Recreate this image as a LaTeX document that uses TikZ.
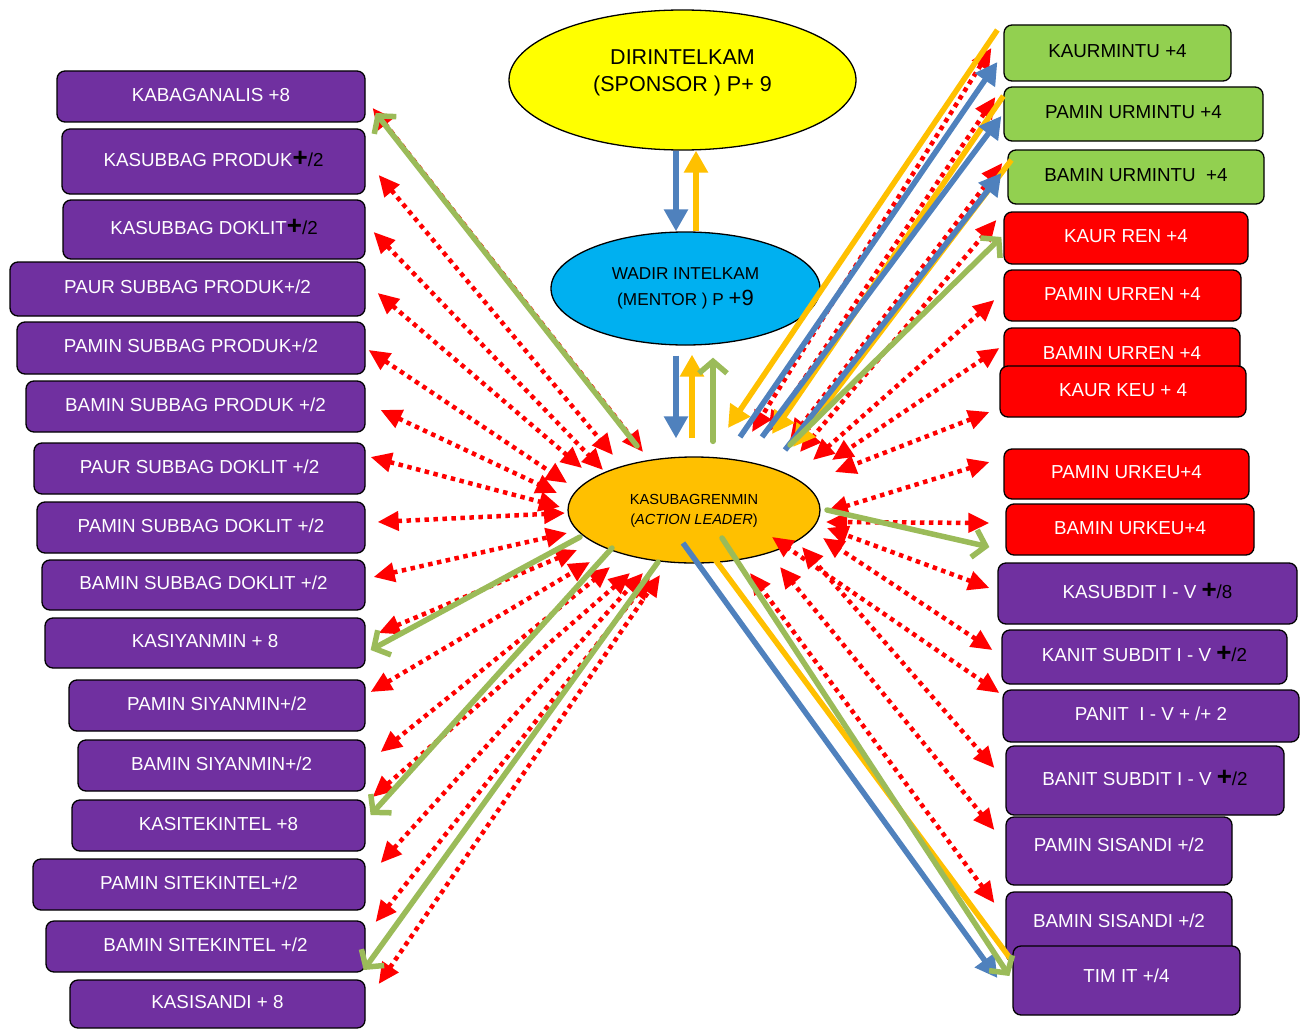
\documentclass[tikz,border=0pt]{standalone}
\usepackage{fontspec}
\setmainfont{Liberation Sans}
\usetikzlibrary{arrows.meta,shapes.geometric}

\definecolor{unitpurple}{HTML}{7030A0}
\definecolor{unitred}{HTML}{FF0000}
\definecolor{unitgreen}{HTML}{92D050}
\definecolor{linkblue}{HTML}{4F81BD}
\definecolor{linkgold}{HTML}{FFC000}
\definecolor{linkgreen}{HTML}{9BBB59}
\definecolor{linkred}{HTML}{FF0000}
\definecolor{sponsorfill}{HTML}{FFFF00}
\definecolor{mentorfill}{HTML}{00B0F0}
\definecolor{leaderfill}{HTML}{FFC000}

% black, enlarged plus sign followed by its divisor
\newcommand\blkplus[1]{{\color{black}\fontsize{26}{20}\selectfont\bfseries +}{\color{black}#1}}

\begin{document}
\begin{tikzpicture}[x=1pt, y=-1pt,
  orgbox/.style={draw=black, line width=1.3pt, rounded corners=8pt, inner sep=0pt,
    font=\fontsize{18.8}{20}\selectfont, text height=13.5pt, text depth=4pt},
  pbox/.style={orgbox, fill=unitpurple, text=white},
  rbox/.style={orgbox, fill=unitred, text=white},
  gbox/.style={orgbox, fill=unitgreen, text=black},
  spanbox/.style n args={4}{minimum width={#3-#1}, minimum height={#4-#2},
    at={({(#1+#3)/2},{(#2+#4)/2})}},
  raisetext/.style={text depth=#1},
  oval/.style={ellipse, draw=black, line width=1.3pt, inner sep=0pt},
  reddot/.style={draw=linkred, line width=4.5pt, dash pattern=on 4.5pt off 4.5pt,
    arrows={Triangle[length=21pt,width=19pt]-Triangle[length=21pt,width=19pt]}},
  blueln/.style={draw=linkblue, line width=5.5pt, arrows={-Triangle[length=22pt,width=23pt]}},
  goldln/.style={draw=linkgold, line width=5.5pt, arrows={-Triangle[length=22pt,width=23pt]}},
  goldbare/.style={draw=linkgold, line width=5.5pt},
  greenln/.style={draw=linkgreen, line width=5.5pt, line cap=round,
    arrows={-Straight Barb[length=12pt,width=28pt]}}
]
\fill[white] (0,0) rectangle (1308,1030);
\useasboundingbox (0,0) rectangle (1308,1030);

% ---- central hierarchy ----
\node[oval, fill=sponsorfill, minimum width=347pt, minimum height=140pt] (dir) at (682.5,80)
  {\raisebox{2.5pt}[0pt][0pt]{\fontsize{21.5}{27}\selectfont\begin{tabular}{@{}c@{}}DIRINTELKAM\\(SPONSOR ) P+ 9\end{tabular}}};
\node[oval, fill=mentorfill, minimum width=269pt, minimum height=113pt] (wadir) at (685.5,288.5)
  {\raisebox{-3.3pt}[0pt][0pt]{\fontsize{17.2}{26}\selectfont\begin{tabular}{@{}c@{}}WADIR INTELKAM\\(MENTOR ) P {\fontsize{22}{26}\selectfont +9}\end{tabular}}};
\node[oval, fill=leaderfill, minimum width=252pt, minimum height=106pt] (lead) at (694,510)
  {\raisebox{-4.5pt}[0pt][0pt]{\fontsize{14.6}{20}\selectfont\begin{tabular}{@{}c@{}}KASUBAGRENMIN\\(\textit{ACTION LEADER})\end{tabular}}};

% ---- left column ----
\node[pbox, spanbox={57}{71}{365}{122}] (l1) {KABAGANALIS +8};
\node[pbox, spanbox={62}{129}{365}{194}] (l2) {KASUBBAG PRODUK\blkplus{/2}};
\node[pbox, spanbox={63}{200}{365}{259}] (l3) {KASUBBAG DOKLIT\blkplus{/2}};
\node[pbox, spanbox={10}{262}{365}{316}] (l4) {PAUR SUBBAG PRODUK+/2};
\node[pbox, spanbox={17}{322}{365}{374}] (l5) {PAMIN SUBBAG PRODUK+/2};
\node[pbox, spanbox={26}{381}{365}{432}] (l6) {BAMIN SUBBAG PRODUK +/2};
\node[pbox, spanbox={34}{443}{365}{494}] (l7) {PAUR SUBBAG DOKLIT +/2};
\node[pbox, spanbox={37}{502}{365}{553}] (l8) {PAMIN SUBBAG DOKLIT +/2};
\node[pbox, spanbox={42}{560}{365}{610}] (l9) {BAMIN SUBBAG DOKLIT +/2};
\node[pbox, spanbox={45}{618}{365}{668}] (l10) {KASIYANMIN + 8};
\node[pbox, spanbox={69}{680}{365}{731}] (l11) {PAMIN SIYANMIN+/2};
\node[pbox, spanbox={78}{740}{365}{791}] (l12) {BAMIN SIYANMIN+/2};
\node[pbox, spanbox={72}{800}{365}{851}] (l13) {KASITEKINTEL +8};
\node[pbox, spanbox={33}{859}{365}{910}] (l14) {PAMIN SITEKINTEL+/2};
\node[pbox, spanbox={46}{921}{365}{972}] (l15) {BAMIN SITEKINTEL +/2};
\node[pbox, spanbox={70}{980}{365}{1028}] (l16) {KASISANDI + 8};

% ---- right column ----
\node[gbox, spanbox={1004}{25}{1231}{81}] (r1) {KAURMINTU +4};
\node[gbox, spanbox={1004}{87}{1263}{141}] (r2) {PAMIN URMINTU +4};
\node[gbox, spanbox={1008}{150}{1264}{204}] (r3) {BAMIN URMINTU\ \ +4};
\node[rbox, spanbox={1004}{212}{1248}{264}] (r4) {KAUR REN +4};
\node[rbox, spanbox={1004}{270}{1241}{321}] (r5) {PAMIN URREN +4};
\node[rbox, spanbox={1004}{328}{1240}{382}] (r6) {BAMIN URREN +4};
\node[rbox, spanbox={1000}{366}{1246}{417}] (r7) {KAUR KEU + 4};
\node[rbox, spanbox={1004}{449}{1249}{499}] (r8) {PAMIN URKEU+4};
\node[rbox, spanbox={1006}{504}{1254}{555}] (r9) {BAMIN URKEU+4};
\node[pbox, spanbox={998}{563}{1297}{624}] (r10) {KASUBDIT I - V \blkplus{/8}};
\node[pbox, spanbox={1002}{630}{1287}{684}] (r11) {KANIT SUBDIT I - V \blkplus{/2}};
\node[pbox, spanbox={1003}{690}{1299}{742}] (r12) {PANIT\ \ I - V + /+ 2};
\node[pbox, spanbox={1006}{746}{1284}{815}] (r13) {BANIT SUBDIT I - V \blkplus{/2}};
\node[pbox, spanbox={1006}{817}{1232}{885}, raisetext=12pt] (r14) {PAMIN SISANDI +/2};
\node[pbox, spanbox={1006}{892}{1232}{962}, raisetext=12pt] (r15) {BAMIN SISANDI +/2};
\node[pbox, spanbox={1013}{946}{1240}{1015}, raisetext=10pt] (r16) {TIM IT +/4};

% ---- two-way coordination links (dotted) ----
\foreach \u/\bx/\by/\hx/\hy in {
  l1/7/11.5/-51/-58, l2/13/13.5/-81/-55, l3/8/2.5/-91/-40, l4/12/4/-112/-42,
  l5/3/2/-127/-27, l6/15/3.5/-137/-17, l7/5/-11.5/-134/-3, l8/12/-5.5/-129/3,
  l9/8/-8/-127/23, l10/13/-10/-117/40, l11/5/-13.5/-104/52, l12/15/-13.5/-84/57,
  l13/7/-28.5/-64/63, l14/15/-21.5/-51/63, l15/10/-24.5/-44/68, l16/13/-20/-34/65}
  \draw[reddot] ([shift={(\bx,\by)}]\u.east) -- ([shift={(\hx,\hy)}]lead.center);

\foreach \u/\bx/\by/\hx/\hy in {
  r1/-12/-5/58/-78, r2/-8/-17/74/-78, r3/-5/-14/96/-70, r4/-7/-18/106/-58,
  r5/-9/4.5/119/-50, r6/-4/-7/138/-50, r7/-10/20.5/141/-38, r8/-14/-12/133/2,
  r9/-16/-6.5/132/12, r10/-8/-5.5/133/18, r11/-9/-7/129/28, r12/-3/-23/78/27,
  r13/-11/-12.5/108/37, r14/-11/-21/86/57, r15/-11/-24/56/63}
  \draw[reddot] ([shift={(\bx,\by)}]\u.west) -- ([shift={(\hx,\hy)}]lead.center);

% ---- vertical chain ----
\draw[blueln] ([xshift=-6.5pt]dir.south) -- ([xshift=-9.5pt]wadir.north);
\draw[goldln] ([xshift=10.5pt]wadir.north) -- ([xshift=13.5pt]dir.south);
\draw[blueln, shorten <=10pt, shorten >=18pt] ([xshift=-9.5pt]wadir.south) -- ([xshift=-18pt]lead.north);
\draw[goldln, shorten <=18pt, shorten >=9pt] ([xshift=-2pt]lead.north) -- ([xshift=6.5pt]wadir.south);
\draw[greenln, shorten <=15pt, shorten >=12pt] ([xshift=19pt]lead.north) -- ([xshift=27.5pt]wadir.south);

% ---- left solid links ----
\draw[greenln] ([shift={(-57,-64)}]lead.center) -- ([shift={(10,16.5)}]l1.east);
\draw[greenln] ([shift={(-114,27)}]lead.center) -- ([shift={(5,7)}]l10.east);
\draw[greenln] ([shift={(-82,38)}]lead.center) -- ([shift={(5,-10.5)}]l13.east);
\draw[greenln] ([shift={(-36,52)}]lead.center) -- ([shift={(-2,23.5)}]l15.east);

% ---- right solid links ----
\draw[goldln] ([shift={(-6,-23)}]r1.west) -- ([shift={(34,-82)}]lead.center);
\draw[blueln] ([shift={(46,-73)}]lead.center) -- ([shift={(-6,9)}]r1.west);
\draw[goldln] ([shift={(0,-18)}]r2.west) -- ([shift={(78,-76)}]lead.center);
\draw[blueln] ([shift={(68,-73)}]lead.center) -- ([shift={(-2,2)}]r2.west);
\draw[goldln] ([shift={(4,-17)}]r3.west) -- ([shift={(99,-63)}]lead.center);
\draw[blueln] ([shift={(91,-60)}]lead.center) -- ([shift={(-6,-4)}]r3.west);
\draw[greenln] ([shift={(96,-65)}]lead.center) -- ([shift={(-2,-1)}]r4.west);
\draw[greenln] ([shift={(133,0)}]lead.center) -- ([shift={(-16,17.5)}]r9.west);
\draw[blueln] ([shift={(-11,33)}]lead.center) -- ([shift={(-15,-2.5)}]r16.west);
\draw[goldbare] ([shift={(14,40)}]lead.center) -- ([shift={(-1,-20.5)}]r16.west);
\draw[greenln] ([shift={(28,28)}]lead.center) -- ([shift={(-3,-4.5)}]r16.west);
\end{tikzpicture}
\end{document}
